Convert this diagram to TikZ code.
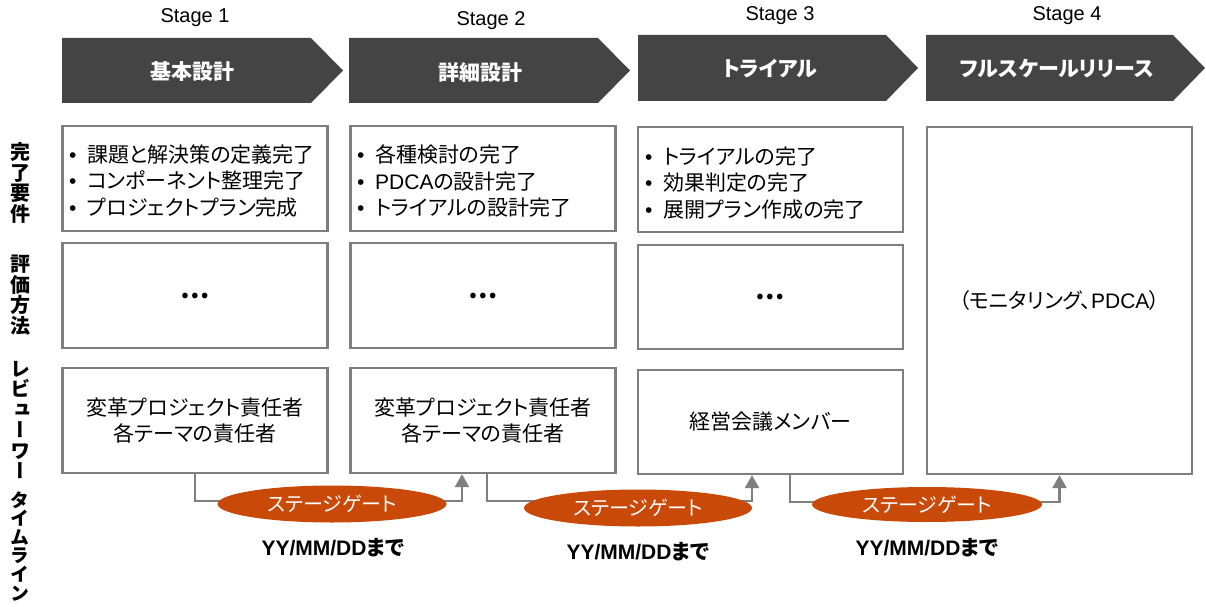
\documentclass[tikz,border=0pt]{standalone}
\usepackage{fontspec}
\setmainfont{Liberation Sans}
\newfontfamily\jp[RawFeature={+palt}]{Noto Sans CJK JP}
\newfontfamily\jpv[RawFeature={+vert}]{Noto Sans CJK JP}
\newfontfamily\lat{Liberation Sans}
\usetikzlibrary{arrows.meta,shapes.geometric,calc}
\definecolor{bannergray}{RGB}{68,68,68}
\definecolor{boxgray}{RGB}{127,127,127}
\definecolor{gatecol}{RGB}{201,74,8}
\newcommand{\bul}{\makebox[18pt][l]{\lat •}}
\newcommand{\dotsjp}{{\jp\bfseries\fontsize{26}{26}\selectfont …}}
\begin{document}
\begin{tikzpicture}[x=1pt,y=-1pt,
  cell/.style={draw=boxgray, line width=2.2pt, fill=white, inner sep=0pt,
    minimum width=265pt, font=\jp\fontsize{21}{26.5}\selectfont, align=center},
  body/.style={font=\jp\fontsize{21}{26.5}\selectfont, inner sep=0pt, text=black, align=left},
  bannerbox/.style={fill=bannergray},
  bannertext/.style={font=\jp\bfseries\fontsize{21}{25}\selectfont, text=white, inner sep=0pt},
  stagelbl/.style={font=\lat\fontsize{20}{24}\selectfont, inner sep=0pt},
  side/.style={font=\jpv\bfseries\fontsize{20}{20.5}\selectfont, align=center, inner sep=0pt},
  conn/.style={draw=boxgray, line width=2.5pt},
  arr/.style={-{Triangle[length=13pt,width=14pt]}},
  gate/.style={ellipse, fill=gatecol, inner sep=0pt, text=white,
    font=\jp\fontsize{20}{24}\selectfont},
  datelbl/.style={font=\jp\bfseries\fontsize{21}{25}\selectfont, inner sep=0pt}
]
\useasboundingbox (0,0) rectangle (1206,607);

% stage labels
\node[stagelbl] (st1) at (195,18) {Stage 1};
\node[stagelbl] (st2) at (491,21) {Stage 2};
\node[stagelbl] (st3) at (780,16) {Stage 3};
\node[stagelbl] (st4) at (1067,16) {Stage 4};

% banners
\fill[bannerbox] (62,38) -- (311,38) -- (343,70.5) -- (311,103) -- (62,103) -- cycle;
\fill[bannerbox] (349,38) -- (598,38) -- (630,70.5) -- (598,103) -- (349,103) -- cycle;
\fill[bannerbox] (638,35) -- (886,35) -- (918,68) -- (886,101) -- (638,101) -- cycle;
\fill[bannerbox] (926,35) -- (1173,35) -- (1205,68) -- (1173,101) -- (926,101) -- cycle;
\node[bannertext] (bt1) at (192,72) {基本設計};
\node[bannertext] (bt2) at (480,72) {詳細設計};
\node[bannertext] (bt3) at (770,69) {トライアル};
\node[bannertext] (bt4) at (1057,69) {フルスケールリリース};

% side labels
\node[side] (l1) at (20,183) {完\\了\\要\\件};
\node[side] (l2) at (20,295) {評\\価\\方\\法};
\node[side] (l3) at (20,420) {レ\\ビ\\ュ\\ー\\ワ\\ー};
\node[side, font=\jpv\bfseries\fontsize{19}{18.6}\selectfont] (l4) at (20,546) {タ\\イ\\ム\\ラ\\イ\\ン};

% boxes
\node[cell, minimum height=105pt] (b11) at (195,178.5) {};
\node[cell, minimum height=105pt] (b12) at (195,295.5) {\dotsjp};
\node[cell, minimum height=105pt] (b13) at (195,420.5) {変革プロジェクト責任者\\各テーマの責任者};
\node[cell, minimum height=105pt] (b21) at (483,178.5) {};
\node[cell, minimum height=105pt] (b22) at (483,295.5) {\dotsjp};
\node[cell, minimum height=105pt] (b23) at (483,420.5) {変革プロジェクト責任者\\各テーマの責任者};
\node[cell, minimum height=105pt] (b31) at (770.5,179.5) {};
\node[cell, minimum height=104pt] (b32) at (770.5,297) {\dotsjp};
\node[cell, minimum height=104pt] (b33) at (770.5,422) {経営会議メンバー};
\node[cell, minimum height=347pt] (b4) at (1059.5,300.5) {（モニタリング、{\lat PDCA}）};

% bullet texts
\node[body, anchor=west] (t1) at (69,181) {\bul 課題と解決策の定義完了\\\bul コンポーネント整理完了\\\bul プロジェクトプラン完成};
\node[body, anchor=west] (t2) at (357,181) {\bul 各種検討の完了\\\bul {\lat PDCA}の設計完了\\\bul トライアルの設計完了};
\node[body, anchor=west] (t3) at (645,183) {\bul トライアルの完了\\\bul 効果判定の完了\\\bul 展開プラン作成の完了};

% connectors
\draw[conn,arr] (b13.south) -- ++(0,27) -| ([xshift=-21pt]b23.south);
\draw[conn,arr] ([xshift=4pt]b23.south) -- ++(0,27) -| ([xshift=-18.5pt]b33.south);
\draw[conn,arr] ([xshift=19.5pt]b33.south) -- ++(0,27) -| (b4.south);

% gates
\node[gate, minimum width=229pt, minimum height=37pt] (g1) at (332,504) {ステージゲート};
\node[gate, minimum width=228pt, minimum height=37pt] (g2) at (638,508) {ステージゲート};
\node[gate, minimum width=230pt, minimum height=35pt] (g3) at (927,504.5) {ステージゲート};

% dates
\node[datelbl] (d1) at (333,548) {{\lat\bfseries YY/MM/DD}まで};
\node[datelbl] (d2) at (638,552) {{\lat\bfseries YY/MM/DD}まで};
\node[datelbl] (d3) at (927,548) {{\lat\bfseries YY/MM/DD}まで};
\end{tikzpicture}
\end{document}
